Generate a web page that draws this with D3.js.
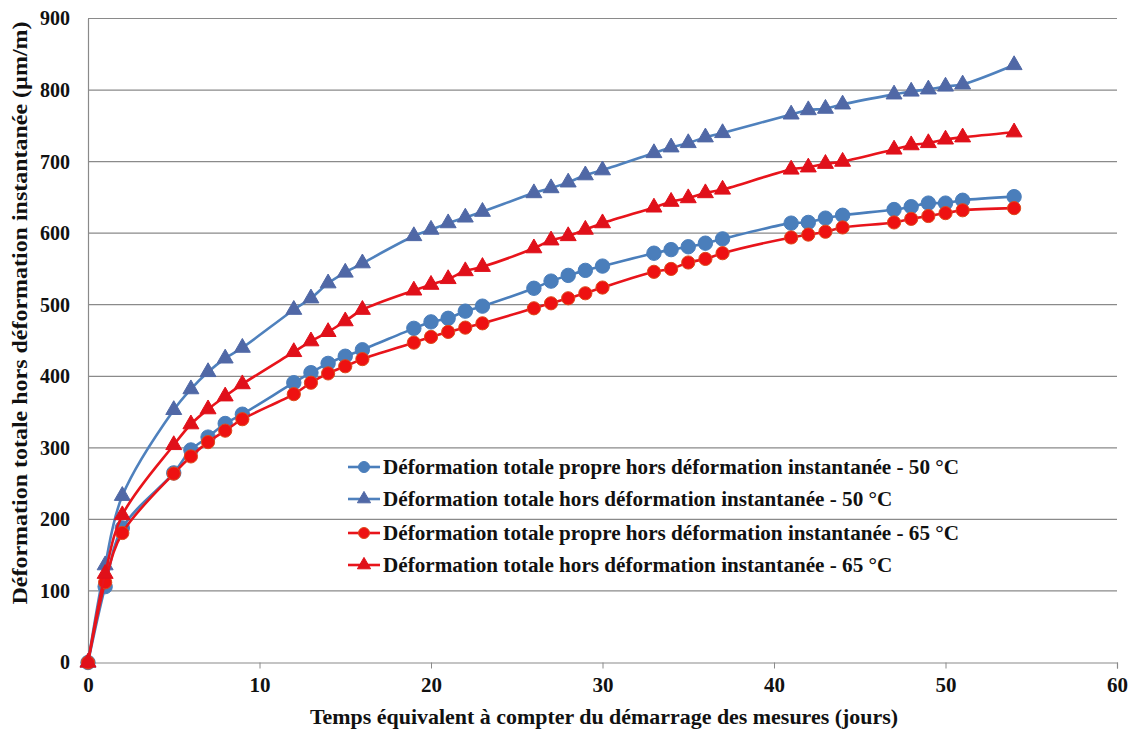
<!DOCTYPE html>
<html><head><meta charset="utf-8">
<script src="https://cdn.jsdelivr.net/npm/d3@7"></script>
<style>
body{margin:0;background:#fff}
text{font-family:"Liberation Serif","Times New Roman",serif;font-weight:bold;fill:#111}
</style>
</head><body><svg id="c" width="1134" height="733"></svg>
<script>
const days = [0,1,2,5,6,7,8,9,12,13,14,15,16,19,20,21,22,23,26,27,28,29,30,33,34,35,36,37,41,42,43,44,47,48,49,50,51,54];
const propre50 = [0,106,188,265,297,315,334,347,391,405,418,428,437,467,476,481,491,498,523,533,541,548,554,572,577,581,586,592,614,615,621,625,633,637,642,642,646,651];
const totale50 = [0,136,233,353,382,406,425,440,493,509,530,545,558,596,605,614,622,630,656,663,671,681,688,712,720,726,734,740,766,772,774,780,794,798,801,805,808,835];
const propre65 = [0,112,181,264,288,308,324,340,375,391,404,414,424,447,455,462,468,474,495,502,509,516,524,546,550,559,564,572,594,598,602,608,615,620,624,628,632,635];
const totale65 = [0,124,206,304,333,354,372,389,434,449,462,477,493,520,528,536,547,553,579,590,596,605,614,636,644,649,656,661,689,692,697,700,717,723,726,731,734,741];
const xTicks = [0,10,20,30,40,50,60];
const yTicks = [0,100,200,300,400,500,600,700,800,900];
const seriesNames = [
  "Déformation totale propre hors déformation instantanée - 50 °C",
  "Déformation totale hors déformation instantanée - 50 °C",
  "Déformation totale propre hors déformation instantanée - 65 °C",
  "Déformation totale hors déformation instantanée - 65 °C"
];
const xTitle = "Temps équivalent à compter du démarrage des mesures (jours)";
const yTitle = "Déformation totale hors déformation instantanée (µm/m)";

const series = [
  {name: seriesNames[0], values: propre50, line: "#4a7ebb", fill: "#4a7ebb", stroke: "#4a7ebb", shape: "circle", r: 7.2},
  {name: seriesNames[1], values: totale50, line: "#4f81bd", fill: "#5068a6", stroke: "#5068a6", shape: "triangle"},
  {name: seriesNames[2], values: propre65, line: "#e8141b", fill: "#ee1111", stroke: "#dd4a1c", shape: "circle", r: 6.6},
  {name: seriesNames[3], values: totale65, line: "#e8141b", fill: "#e0101a", stroke: "#e0101a", shape: "triangle"}
];

const FONT = '"Liberation Serif","Times New Roman",serif';
const svg = d3.select('#c');
const x = d3.scaleLinear().domain([0,60]).range([88,1117]);
const y = d3.scaleLinear().domain([0,900]).range([662.5,18.5]);

// gridlines
svg.append('g').selectAll('line').data(yTicks.filter(d=>d>0)).join('line')
  .attr('x1', x(0)).attr('x2', x(60))
  .attr('y1', d=>y(d)).attr('y2', d=>y(d))
  .attr('stroke', '#8a8a8a').attr('stroke-width', 1.2);

// x axis
const gx = svg.append('g').attr('transform', `translate(0,${y(0)})`)
  .call(d3.axisBottom(x).tickValues(xTicks).tickSize(6).tickPadding(9).tickFormat(d3.format('d')));
gx.select('.domain').attr('stroke', '#8a8a8a').attr('stroke-width', 1.2);
gx.selectAll('.tick line').attr('stroke', '#8a8a8a');
gx.selectAll('.tick text').style('font-size', '21px').style('font-family', FONT).style('font-weight','bold').attr('fill','#111');

// y axis
const gy = svg.append('g').attr('transform', `translate(${x(0)},0)`)
  .call(d3.axisLeft(y).tickValues(yTicks).tickSize(0).tickPadding(18).tickFormat(d3.format('d')));
gy.select('.domain').attr('stroke', '#8a8a8a').attr('stroke-width', 1.2);
gy.selectAll('.tick text').style('font-size', '20px').style('font-family', FONT).style('font-weight','bold').attr('fill','#111');

// axis titles
svg.append('text').attr('x', 604).attr('y', 724).attr('text-anchor','middle')
  .style('font-family', FONT).style('font-size','21px').attr('textLength', 588).attr('lengthAdjust','spacingAndGlyphs').text(xTitle);
svg.append('text').attr('transform','translate(27,313) rotate(-90)').attr('text-anchor','middle')
  .style('font-family', FONT).style('font-size','21px').attr('textLength', 583).attr('lengthAdjust','spacingAndGlyphs').text(yTitle);

const line = d3.line().x((d,i)=>x(days[i])).y(d=>y(d)).curve(d3.curveCatmullRom.alpha(0.5));
const tri = d3.symbol().type(d3.symbolTriangle).size(110);
const triLeg = d3.symbol().type(d3.symbolTriangle).size(75);

series.forEach(s => {
  const g = svg.append('g');
  g.append('path').datum(s.values).attr('d', line).attr('fill','none')
    .attr('stroke', s.line).attr('stroke-width', 2.6);
  if (s.shape === 'circle') {
    g.selectAll('circle').data(s.values).join('circle')
      .attr('cx', (d,i)=>x(days[i])).attr('cy', d=>y(d)).attr('r', s.r)
      .attr('fill', s.fill).attr('stroke', s.stroke).attr('stroke-width', 1);
  } else {
    g.selectAll('path.m').data(s.values).join('path').attr('class','m')
      .attr('d', tri).attr('transform', (d,i)=>`translate(${x(days[i])},${y(d)})`)
      .attr('fill', s.fill).attr('stroke', s.stroke).attr('stroke-width', 1);
  }
});

// legend
const legY = [467, 499, 533, 565];
const leg = svg.append('g');
const texts = [];
series.forEach((s, i) => {
  const g = leg.append('g').attr('transform', `translate(0,${legY[i]})`);
  g.append('line').attr('x1', 348).attr('x2', 380).attr('y1', 0).attr('y2', 0)
    .attr('stroke', s.line).attr('stroke-width', 2.6);
  if (s.shape === 'circle') {
    g.append('circle').attr('cx', 364).attr('cy', 0).attr('r', 5.5).attr('fill', s.fill).attr('stroke', s.stroke);
  } else {
    g.append('path').attr('d', triLeg).attr('transform','translate(364,0)').attr('fill', s.fill).attr('stroke', s.stroke);
  }
  texts.push(g.append('text').attr('x', 383).attr('y', 7)
    .style('font-family', FONT).style('font-size','21px').style('font-weight','bold').text(s.name));
});
const k = 576 / texts[0].node().getComputedTextLength();
texts.forEach(t => {
  const w = t.node().getComputedTextLength();
  t.attr('textLength', w * k).attr('lengthAdjust', 'spacingAndGlyphs');
});
</script>
</body></html>
